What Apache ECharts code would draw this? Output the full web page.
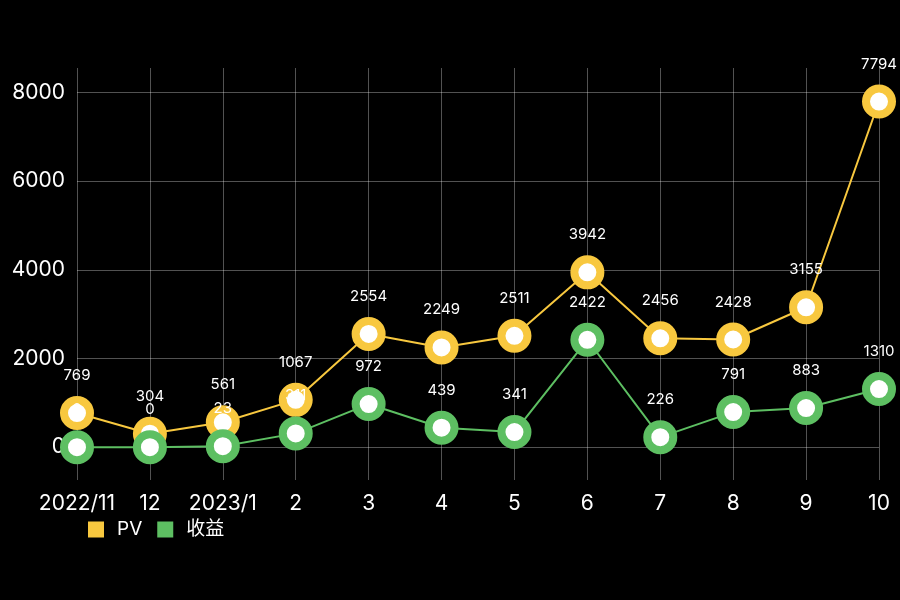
<!DOCTYPE html>
<html>
<head>
<meta charset="utf-8">
<script src="https://cdn.jsdelivr.net/npm/echarts@6/dist/echarts.min.js"></script>
<style>
html,body{margin:0;padding:0;background:#000;}
#chart{width:900px;height:600px;}
</style>
</head>
<body>
<div id="chart"></div>
<script>
const categories = ['2022/11','12','2023/1','2','3','4','5','6','7','8','9','10'];
const pvValues = [769, 304, 561, 1067, 2554, 2249, 2511, 3942, 2456, 2428, 3155, 7794];
const incomeValues = [0, 0, 23, 311, 972, 439, 341, 2422, 226, 791, 883, 1310];
const seriesNames = ['PV', '收益'];

const FONT = 'Inter, "Noto Sans CJK SC", sans-serif';
const YELLOW = '#F8C83F';
const GREEN = '#5DBF62';
const GRID = 'rgba(255,255,255,0.32)';

function makeSeries(name, data, color) {
  return {
    name: name,
    type: 'line',
    data: data,
    symbol: 'circle',
    symbolSize: 26,
    lineStyle: { color: color, width: 2 },
    itemStyle: { color: '#fff', borderColor: color, borderWidth: 8 },
    label: {
      show: true,
      position: 'top',
      distance: 13,
      color: '#fff',
      fontSize: 15,
      fontFamily: FONT
    },
    emphasis: { disabled: true },
    animation: false
  };
}

const chart = echarts.init(document.getElementById('chart'));
chart.setOption({
  backgroundColor: '#000',
  animation: false,
  color: [YELLOW, GREEN],
  grid: { left: 77, right: 21, top: 68, bottom: 120, containLabel: false },
  legend: {
    left: 83,
    top: 515,
    itemWidth: 16,
    itemHeight: 16,
    itemGap: 15,
    icon: 'rect',
    textStyle: { color: '#fff', fontSize: 19, fontFamily: FONT, padding: [0, 0, 0, 8] },
    data: [
      { name: seriesNames[0], itemStyle: { color: YELLOW, borderWidth: 0 } },
      { name: seriesNames[1], itemStyle: { color: GREEN, borderWidth: 0 } }
    ]
  },
  xAxis: {
    type: 'category',
    data: categories,
    boundaryGap: false,
    axisLine: { show: false },
    axisTick: { show: false },
    axisLabel: { color: '#fff', fontSize: 21, fontFamily: FONT, margin: 13, interval: 0 },
    splitLine: { show: true, interval: 0, lineStyle: { color: GRID, width: 1 } }
  },
  yAxis: {
    type: 'value',
    min: -740,
    max: 8550,
    splitNumber: 5,
    axisLine: { show: false },
    axisTick: { show: false },
    axisLabel: {
      color: '#fff', fontSize: 21, fontFamily: FONT, margin: 12,
      showMinLabel: false, showMaxLabel: false,
      formatter: function (v) { return String(v); }
    },
    splitLine: { show: true, showMinLine: false, showMaxLine: false, lineStyle: { color: GRID, width: 1 } }
  },
  series: [
    makeSeries(seriesNames[0], pvValues, YELLOW),
    makeSeries(seriesNames[1], incomeValues, GREEN)
  ]
});
</script>
</body>
</html>
